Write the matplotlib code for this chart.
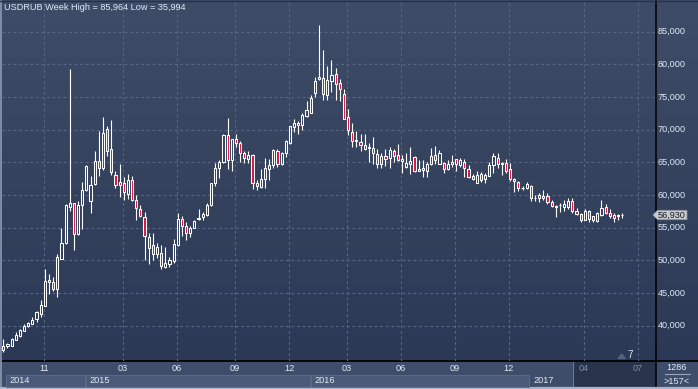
import numpy as np
import matplotlib
matplotlib.use("Agg")
import matplotlib.pyplot as plt
from matplotlib.colors import LinearSegmentedColormap
from matplotlib.patches import Rectangle, Polygon
from matplotlib.transforms import blended_transform_factory

# ---------------- data (weekly USDRUB candles) ----------------
opens = [36.3, 36.8, 36.9, 37.8, 38.4, 39.2, 39.9, 40.3, 40.95, 41.8,
         43.05, 46.6, 46.6, 45.65, 50.25, 52.6, 58.2, 58.7, 54.0, 58.4,
         60.7, 59.0, 61.7, 65.2, 64.1, 70.1, 67.0, 63.0, 62.0, 61.8,
         60.2, 62.3, 59.2, 57.9, 56.6, 53.6, 52.3, 50.9, 51.1, 48.9,
         49.5, 49.9, 52.4, 56.3, 55.3, 54.1, 55.0, 56.3, 56.6, 56.9,
         58.4, 61.8, 64.1, 65.0, 69.2, 65.4, 68.5, 68.0, 66.5, 65.5,
         66.1, 61.8, 61.2, 62.4, 63.9, 64.6, 66.7, 64.7, 66.4, 67.9,
         70.4, 71.0, 70.7, 72.1, 72.6, 75.6, 77.7, 77.9, 75.3, 77.5,
         78.5, 77.2, 75.5, 72.0, 69.6, 68.2, 68.1, 67.6, 67.2, 67.2,
         66.2, 64.8, 65.9, 65.6, 66.8, 66.1, 65.25, 64.3, 64.8, 65.8,
         63.7, 64.1, 63.6, 64.7, 66.1, 64.8, 64.9, 63.9, 64.8, 65.5,
         64.6, 65.1, 64.0, 62.9, 61.9, 63.2, 62.45, 62.95, 64.6, 65.6,
         64.7, 64.95, 63.9, 62.1, 62.0, 61.0, 61.0, 61.4, 59.5, 59.5,
         59.5, 59.85, 58.95, 58.2, 58.4, 58.2, 58.1, 59.1, 57.55, 57.1,
         56.2, 57.55, 56.1, 56.0, 56.9, 58.1, 57.2, 56.9, 56.8, 56.9]
highs = [37.9, 37.4, 38.15, 39.0, 39.5, 40.3, 40.6, 41.35, 42.2, 43.9,
         48.7, 47.9, 47.4, 50.9, 55.0, 58.6, 79.3, 58.8, 59.0, 62.0,
         64.6, 62.9, 66.7, 69.8, 71.9, 70.6, 71.5, 63.7, 64.7, 62.8,
         63.2, 62.9, 60.0, 58.5, 57.4, 54.1, 54.1, 52.6, 52.3, 52.1,
         50.5, 53.2, 57.3, 56.8, 55.9, 55.3, 56.2, 57.85, 57.4, 58.7,
         61.9, 64.9, 65.4, 69.4, 71.8, 68.6, 69.3, 68.2, 66.8, 66.8,
         66.2, 62.3, 63.9, 65.6, 65.5, 67.1, 67.0, 66.6, 68.4, 70.6,
         71.6, 71.4, 72.5, 74.4, 75.3, 78.0, 85.964, 82.2, 79.8, 80.7,
         79.4, 77.7, 76.3, 73.1, 71.0, 69.8, 69.4, 69.4, 68.0, 68.8,
         67.1, 66.4, 67.1, 67.3, 67.1, 67.8, 66.1, 66.5, 67.4, 65.9,
         65.3, 65.4, 65.0, 67.2, 67.5, 66.9, 65.1, 65.4, 66.1, 65.5,
         65.7, 65.45, 64.6, 63.2, 63.6, 63.5, 63.4, 65.1, 66.4, 66.5,
         65.1, 65.5, 64.85, 62.55, 62.2, 61.3, 61.95, 61.45, 60.0, 60.35,
         60.8, 60.35, 59.3, 58.5, 58.8, 59.2, 59.5, 59.5, 57.95, 57.3,
         57.8, 57.7, 56.8, 57.45, 59.2, 58.6, 57.8, 57.2, 57.1, 57.3]
lows = [35.994, 36.5, 36.85, 37.75, 38.2, 39.1, 39.8, 40.2, 40.5, 41.3,
        43.0, 44.9, 45.3, 44.4, 50.2, 52.5, 57.6, 51.6, 53.9, 54.8,
        60.6, 57.3, 61.6, 62.9, 63.8, 65.9, 63.0, 61.1, 59.7, 59.3,
        59.4, 59.1, 56.1, 56.6, 50.0, 49.4, 50.0, 50.3, 48.6, 48.8,
        48.9, 49.6, 52.2, 53.7, 53.05, 53.6, 54.9, 56.2, 56.2, 56.7,
        58.3, 61.3, 62.6, 64.9, 64.0, 63.7, 67.3, 65.0, 64.9, 64.9,
        60.9, 60.7, 61.1, 61.1, 62.3, 64.1, 64.3, 64.6, 65.8, 67.8,
        69.7, 69.3, 70.0, 72.0, 72.5, 75.0, 77.6, 74.5, 74.5, 75.8,
        74.6, 74.4, 71.6, 69.2, 67.3, 67.3, 66.8, 66.9, 65.1, 64.7,
        64.1, 64.2, 64.4, 64.2, 65.1, 65.2, 63.4, 64.2, 63.2, 63.5,
        63.6, 62.7, 62.7, 64.6, 64.8, 64.7, 63.4, 63.8, 64.3, 63.6,
        64.3, 62.7, 62.6, 62.3, 61.8, 62.0, 61.8, 62.9, 63.3, 64.1,
        63.1, 63.4, 62.2, 60.5, 60.6, 60.8, 60.9, 59.1, 59.1, 58.95,
        59.2, 58.6, 58.1, 56.6, 57.35, 57.6, 57.85, 57.3, 56.95, 55.9,
        56.1, 55.9, 55.9, 55.8, 56.8, 57.05, 56.4, 55.9, 56.1, 56.4]
closes = [36.9, 37.1, 37.9, 38.5, 39.3, 40.0, 40.4, 40.85, 42.0, 43.1,
          46.8, 47.0, 45.65, 50.5, 52.6, 58.4, 58.7, 54.0, 58.5, 60.7,
          64.5, 61.5, 65.2, 64.2, 69.5, 66.8, 63.5, 61.6, 61.6, 60.4,
          62.3, 59.2, 58.0, 56.7, 53.7, 51.9, 50.9, 52.1, 49.1, 49.6,
          50.1, 52.5, 56.3, 55.2, 54.1, 54.9, 56.0, 56.5, 57.1, 58.4,
          61.8, 64.1, 65.1, 69.2, 65.4, 68.5, 67.9, 66.5, 65.6, 66.1,
          61.8, 61.3, 62.4, 64.1, 64.6, 66.9, 64.7, 66.5, 68.2, 70.5,
          71.0, 70.7, 72.2, 73.0, 74.8, 77.5, 78.0, 75.4, 77.6, 78.4,
          77.0, 76.2, 71.7, 70.0, 68.3, 68.4, 67.7, 67.1, 67.3, 66.5,
          64.8, 66.0, 65.5, 66.9, 65.9, 65.35, 65.5, 64.9, 65.2, 63.7,
          64.0, 63.8, 64.8, 66.0, 65.3, 66.5, 63.9, 64.7, 65.1, 64.8,
          65.35, 64.1, 62.8, 62.4, 63.05, 62.3, 63.05, 64.6, 66.0, 64.7,
          64.95, 63.7, 62.45, 62.4, 61.0, 61.1, 61.7, 59.6, 59.6, 59.95,
          59.9, 58.95, 58.35, 58.35, 58.5, 58.6, 59.1, 57.5, 57.1, 56.2,
          57.55, 56.3, 56.7, 57.2, 58.05, 57.2, 56.8, 56.5, 56.9, 56.93]

y_ticks = [40, 45, 50, 55, 60, 65, 70, 75, 80, 85]
month_labels = ['11', '03', '06', '09', '12', '03', '06', '09', '12', '04', '07']
month_idx = [9.8, 28.8, 41.8, 55.8, 68.8, 82.7, 95.7, 108.7, 121.7, 139.8, 152.8]
year_labels = ['2014', '2015', '2016', '2017']
year_idx = [0.65, 19.9, 74.0, 126.8]
symbol = 'USDRUB'
period = 'Week'
marker_count = '7'
corner_top = '1286'
corner_bottom = '>157<'

def fmt(v):
    return f"{v:,.3f}".replace(',', ' ').replace('.', ',').replace(' ', '.')

def fmt3(v):
    return f"{v:.3f}".replace('.', ',')

# ---------------- layout ----------------
W, H = 698, 389
FONT = 'Liberation Sans'
FS = 6.6
TXT = '#e2eaf8'

fig = plt.figure(figsize=(W / 100, H / 100), dpi=100)
bg = fig.add_axes([0, 0, 1, 1])
bg.set_xlim(0, W)
bg.set_ylim(H, 0)
bg.axis('off')

cmap = LinearSegmentedColormap.from_list('g', ['#3e4c67', '#2c3956'])
bg.imshow(np.linspace(0, 1, 256).reshape(-1, 1), cmap=cmap,
          extent=[0, W, 361, 0], aspect='auto', zorder=0)
# bottom panel
bg.add_patch(Rectangle((0, 361), W, H - 361, color='#3e4d6a', zorder=1))
bg.add_patch(Rectangle((573, 361), 82, H - 361, color='#28344c', zorder=2))
bg.plot([572.5, 572.5], [362, 387], color='#6f7d96', lw=0.8, zorder=3)
# borders
bg.plot([0, W], [360.8, 360.8], color='black', lw=1.3, zorder=6)
bg.plot([655.5, 655.5], [0, H], color='black', lw=1.1, zorder=6)
bg.plot([0.7, 0.7], [0, H], color='#8d99b3', lw=1.2, zorder=6)
bg.plot([0, W], [388.2, 388.2], color='#a9b4c8', lw=1.6, zorder=6)
bg.plot([0, W], [0.5, 0.5], color='#27324a', lw=1.0, zorder=6)

# corner panel
bg.text(677, 367.5, corner_top, ha='center', va='center', fontsize=FS,
        family=FONT, color=TXT, zorder=7)
bg.plot([665, 690], [374, 374], color='#9aa4b8', lw=0.8, zorder=7)
bg.text(677, 381.5, corner_bottom, ha='center', va='center', fontsize=FS,
        family=FONT, color=TXT, zorder=7)

# main axes
x_left, x_right = 2, 655
y_top, y_bot = 2, 361
ax = fig.add_axes([x_left / W, 1 - y_bot / H, (x_right - x_left) / W, (y_bot - y_top) / H])
ax.set_facecolor('none')
step = 4.154
x0 = 3.3
ax.set_xlim((x_left - x0) / step, (x_right - x0) / step)
ax.set_ylim(34.57, 89.55)
for s in ax.spines.values():
    s.set_visible(False)
ax.set_xticks([])
ax.set_yticks([])

grid_c = '#566684'
for v in y_ticks:
    ax.axhline(v, color=grid_c, lw=0.8, ls=(0, (2.5, 2.5)), zorder=1)
for m in month_idx:
    ax.axvline(m, color=grid_c, lw=0.8, ls=(0, (2.5, 2.5)), zorder=1)

o = np.array(opens); h = np.array(highs); l = np.array(lows); c = np.array(closes)
x = np.arange(len(o))
top = np.maximum(o, c)
bot = np.minimum(o, c)
ax.vlines(x, top, h, color='white', lw=0.8, zorder=2)
ax.vlines(x, l, bot, color='white', lw=0.8, zorder=2)
face = ['none' if cc >= oo else '#e0143c' for oo, cc in zip(o, c)]
ax.bar(x, np.maximum(top - bot, 0.05), bottom=bot, width=0.52,
       color=face, edgecolor='white', linewidth=0.75, zorder=3)

# title
ax.text(4, 7.8, f"{symbol} {period} High = {fmt3(h.max())} Low = {fmt3(l.min())}",
        transform=bg.transData, ha='left', va='center', fontsize=FS,
        family=FONT, color=TXT, zorder=8)

# right price labels
tr_r = blended_transform_factory(bg.transData, ax.transData)
for v in y_ticks:
    ax.text(658, v, fmt3(v), transform=tr_r, ha='left', va='center',
            fontsize=FS, family=FONT, color=TXT, clip_on=False, zorder=8)

# last price marker
last = c[-1]
dy = 0.72
poly = Polygon([[653, last], [657.5, last + dy], [687, last + dy],
                [687, last - dy], [657.5, last - dy]], closed=True,
               transform=tr_r, facecolor='#c8cbd2', edgecolor='#8b909a',
               lw=0.6, clip_on=False, zorder=9)
ax.add_patch(poly)
ax.text(672, last, fmt3(last), transform=tr_r, ha='center', va='center',
        fontsize=FS, family=FONT, color='#1b1b1b', clip_on=False, zorder=10)

# month labels
tr_b = blended_transform_factory(ax.transData, bg.transData)
for lab, m in zip(month_labels, month_idx):
    col = '#7e8ca6' if m > 137 else TXT
    ax.text(m, 368.5, lab, transform=tr_b, ha='center', va='center',
            fontsize=FS, family=FONT, color=col, clip_on=False, zorder=8)

# year boxes
ends = year_idx[1:] + [None]
for i, (lab, st) in enumerate(zip(year_labels, year_idx)):
    if i < 3:
        en = ends[i] - 0.2
        ax.add_patch(Rectangle((st, 374.5), en - st, 12.5, transform=tr_b,
                               facecolor='#4a5a78', edgecolor='#5d6d8c',
                               lw=0.6, clip_on=False, zorder=7))
    ax.text(st + 0.85, 380.5, lab, transform=tr_b, ha='left', va='center',
            fontsize=FS, family=FONT, color=TXT, clip_on=False, zorder=8)

# event marker
bg.add_patch(Polygon([[618, 358.5], [625.5, 358.5], [621.75, 354]], closed=True,
                     color='#56627a', zorder=8))
bg.text(628, 355.2, marker_count, ha='left', va='center', fontsize=7.2,
        family=FONT, color=TXT, zorder=8)

fig.savefig('out.png', dpi=100)
